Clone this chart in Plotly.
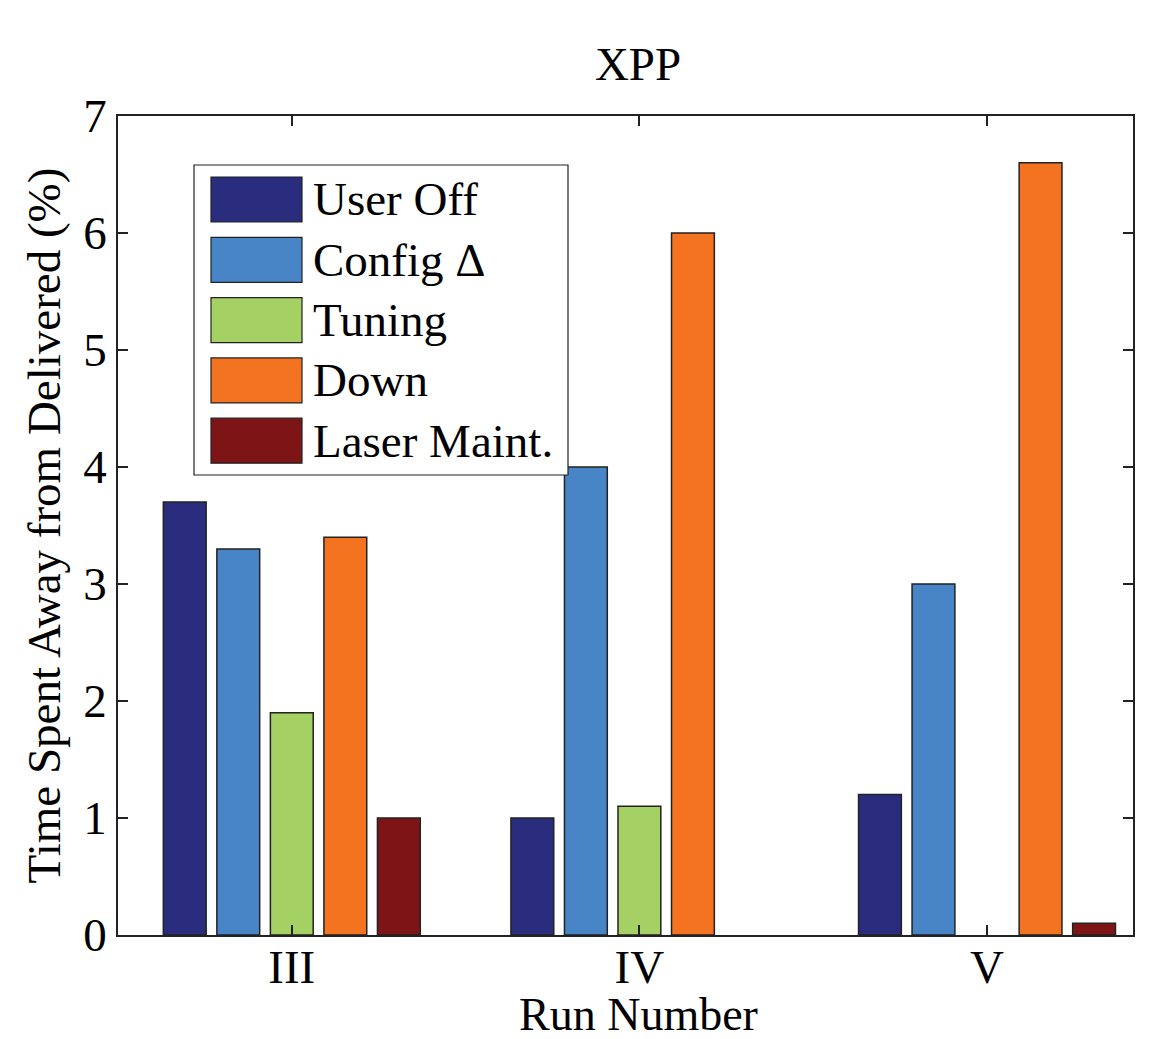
import plotly.graph_objects as go

runs = ["III", "IV", "V"]
run_pos = [1, 2, 3]
series = ["User Off", "Config Δ", "Tuning", "Down", "Laser Maint."]
user_off = [3.7, 1.0, 1.2]
config = [3.3, 4.0, 3.0]
tuning = [1.9, 1.1, None]
down = [3.4, 6.0, 6.6]
laser = [1.0, None, 0.1]
values = [user_off, config, tuning, down, laser]
colors = ["#2a2c7e", "#4785c6", "#a5d063", "#f37321", "#7d1517"]

W, H = 1154, 1039
L, R, T, B = 118, 1133, 116, 935
FONT = "Liberation Serif, Times New Roman, serif"
FS = 47

def px(x):
    return (x - L) / (R - L)

def py(y):
    return (B - y) / (B - T)

fig = go.Figure()
for name, vals, col in zip(series, values, colors):
    fig.add_trace(go.Bar(x=run_pos, y=vals, name=name, marker_color=col,
                         marker_line=dict(color="#222222", width=1.5),
                         showlegend=False))

shapes = [dict(type="rect", xref="paper", yref="paper",
               x0=px(194), x1=px(568), y0=py(475), y1=py(165),
               fillcolor="white", line=dict(color="#222222", width=1.2), layer="above")]
annotations = []
for i, (name, col) in enumerate(zip(series, colors)):
    top = 177 + i * 60.3
    shapes.append(dict(type="rect", xref="paper", yref="paper",
                       x0=px(211), x1=px(302), y0=py(top + 45), y1=py(top),
                       fillcolor=col, line=dict(color="#222222", width=1.2), layer="above"))
    annotations.append(dict(xref="paper", yref="paper", x=px(311), y=py(top + 22.5),
                            text=name, showarrow=False, xanchor="left", yanchor="middle",
                            font=dict(family=FONT, size=FS, color="black")))

# x-axis title placed under the tick labels
annotations.append(dict(xref="paper", yref="paper", x=px(638), y=py(1014),
                        text="Run Number", showarrow=False, xanchor="center", yanchor="middle",
                        font=dict(family=FONT, size=46, color="black")))

fig.update_layout(
    width=W, height=H,
    margin=dict(l=L, r=W - R, t=T, b=H - B),
    paper_bgcolor="white", plot_bgcolor="white",
    barmode="group", bargap=0.23, bargroupgap=0.2,
    font=dict(family=FONT, size=FS, color="black"),
    title=dict(text="XPP", x=638 / W, xanchor="center",
               y=1 - 64 / H, yanchor="middle", yref="container",
               font=dict(family=FONT, size=FS, color="black")),
    shapes=shapes, annotations=annotations,
)
fig.update_xaxes(range=[0.5, 3.42], tickvals=run_pos, ticktext=runs,
                 showline=True, linecolor="#222222", linewidth=1.5, mirror="ticks",
                 ticks="inside", ticklen=10, tickcolor="#222222", tickwidth=1.5,
                 showgrid=False, zeroline=False, ticklabelstandoff=-10,
                 tickfont=dict(family=FONT, size=FS))
fig.update_yaxes(range=[0, 7], tickvals=[0, 1, 2, 3, 4, 5, 6, 7],
                 showline=True, linecolor="#222222", linewidth=1.5, mirror="ticks",
                 ticks="inside", ticklen=10, tickcolor="#222222", tickwidth=1.5,
                 showgrid=False, zeroline=False,
                 tickfont=dict(family=FONT, size=FS),
                 title=dict(text="Time Spent Away from Delivered (%)", standoff=8,
                            font=dict(family=FONT, size=FS)))

fig.write_html("out.html", config={"displayModeBar": False},
               post_script="document.body.style.margin='0';")
